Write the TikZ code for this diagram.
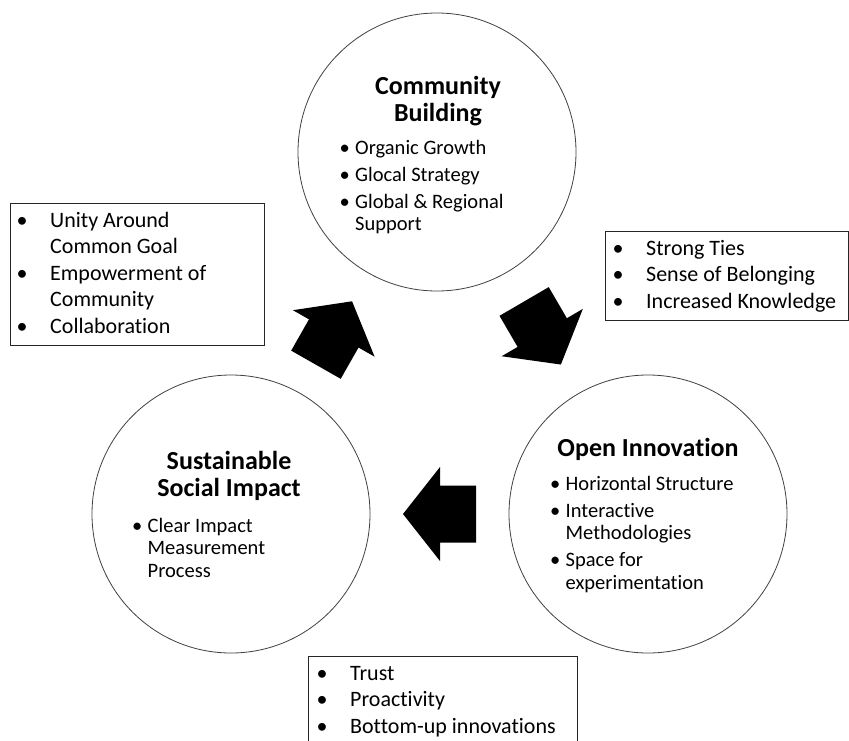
\documentclass[tikz,border=0pt]{standalone}
\usepackage{fontspec}
\setmainfont[Ligatures=NoCommon]{Carlito}
\usetikzlibrary{calc}

% bullet items: inside the circles and inside the side boxes
\newcommand{\circitem}{\makebox[0pt]{\textbullet}\hspace{10.5pt}}
\newcommand{\circcont}{\hspace*{10.5pt}}
\newcommand{\boxitem}{\makebox[0pt]{\textbullet}\hspace{28pt}}
\newcommand{\boxcont}{\hspace*{28pt}}
% fixed height for the first row of a node
\newcommand{\toprow}{\rule{0pt}{0.85em}}

\begin{document}
\begin{tikzpicture}[
        x=1pt,
        y=-1pt,
        stage/.style={
            circle,
            draw=black!75,
            line width=0.8pt,
            minimum size=278pt,
            inner sep=0pt
        },
        stagetitle/.style={
            anchor=north,
            align=center,
            inner sep=0pt,
            font=\fontsize{26}{27}\selectfont\bfseries
        },
        stagelist/.style={
            anchor=north west,
            align=left,
            inner sep=0pt,
            font=\fontsize{20.5}{22.5}\selectfont
        },
        infobox/.style={
            rectangle,
            draw=black!85,
            line width=1pt,
            anchor=north west,
            inner sep=0pt
        },
        infotext/.style={
            anchor=north west,
            align=left,
            inner sep=0pt,
            font=\fontsize{22}{26.5}\selectfont
        }
    ]

    \useasboundingbox (0,0) rectangle (849,740);

    % --------------------------------------------------------
    % The three stages
    % --------------------------------------------------------

    \node[stage] (com) at (437,152) {};
    \node[stage] (inno) at (648,514) {};
    \node[stage] (soc) at (231,514) {};

    \node[stagetitle] (com-title) at (438,71.9) {\toprow Community\\Building};
    \node[stagelist] (com-list) at (344.5,136.6) {
        \toprow\circitem Organic Growth\\[4.5pt]
        \circitem Glocal Strategy\\[4.5pt]
        \circitem Global \& Regional\\
        \circcont Support
    };

    \node[stagetitle] (inno-title) at (648,434.6) {\toprow Open Innovation};
    \node[stagelist] (inno-list) at (555,472.6) {
        \toprow\circitem Horizontal Structure\\[4.5pt]
        \circitem Interactive\\
        \circcont Methodologies\\[4.5pt]
        \circitem Space for\\
        \circcont experimentation
    };

    \node[stagetitle] (soc-title) at (229,446.9) {\toprow Sustainable\\Social Impact};
    \node[stagelist] (soc-list) at (137,514.6) {
        \toprow\circitem Clear Impact\\
        \circcont Measurement\\
        \circcont Process
    };

    % --------------------------------------------------------
    % Block arrows half way between the stages
    % --------------------------------------------------------

    \foreach \from/\to in {soc/com, com/inno, inno/soc} {
        \pgfmathanglebetweenpoints
            {\pgfpointanchor{\from}{center}}
            {\pgfpointanchor{\to}{center}}
        \let\arrowangle\pgfmathresult
        \begin{scope}[
            shift={($(\from)!0.5!(\to)$)},
            rotate=\arrowangle
        ]
            \fill[black]
            (36.5,0)
            -- (-0.5,47)
            -- (-0.5,28.5)
            -- (-36.5,28.5)
            -- (-36.5,-28.5)
            -- (-0.5,-28.5)
            -- (-0.5,-47)
            -- cycle;
        \end{scope}
    }

    % --------------------------------------------------------
    % Side boxes
    % --------------------------------------------------------

    \node[infobox, minimum width=254pt, minimum height=142pt]
    (unitybox) at (10,203) {};
    \node[infotext] (unity-text) at (22,208.3) {
        \toprow\boxitem Unity Around\\
        \boxcont Common Goal\\
        \boxitem Empowerment of\\
        \boxcont Community\\
        \boxitem Collaboration
    };

    \node[infobox, minimum width=243pt, minimum height=89pt]
    (tiesbox) at (605,231) {};
    \node[infotext] (ties-text) at (618,236.3) {
        \toprow\boxitem Strong Ties\\
        \boxitem Sense of Belonging\\
        \boxitem Increased Knowledge
    };

    \node[infobox, minimum width=269pt, minimum height=104pt]
    (trustbox) at (308,656) {};
    \node[infotext] (trust-text) at (322,661.3) {
        \toprow\boxitem Trust\\
        \boxitem Proactivity\\
        \boxitem Bottom-up innovations
    };

\end{tikzpicture}
\end{document}
